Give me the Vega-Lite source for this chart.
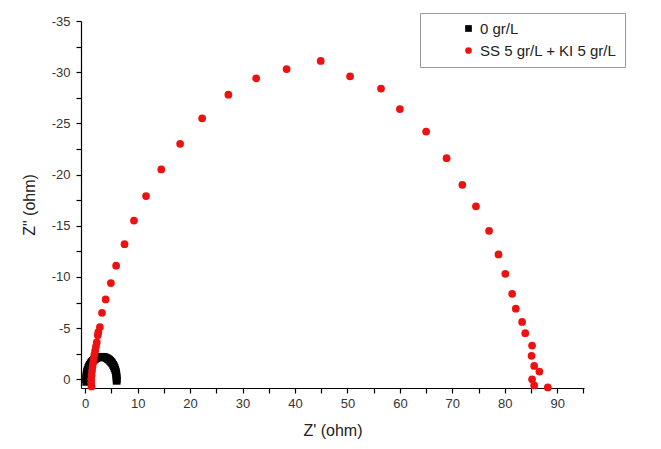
{
  "$schema": "https://vega.github.io/schema/vega-lite/v6.json",
  "width": 503,
  "height": 367,
  "autosize": {"type": "none"},
  "padding": {"left": 81, "top": 21, "right": 77, "bottom": 61},
  "background": "white",
  "config": {
    "view": {"stroke": null},
    "font": "Liberation Sans",
    "axis": {
      "grid": false,
      "domainColor": "#000",
      "domainWidth": 1.2,
      "tickColor": "#000",
      "tickWidth": 1.2,
      "tickSize": 5,
      "labelFont": "Liberation Sans",
      "labelFontSize": 13,
      "labelColor": "#333",
      "titleFont": "Liberation Sans",
      "titleFontSize": 16,
      "titleFontWeight": "normal",
      "titleColor": "#222"
    }
  },
  "data": {
    "values": [
      {"zr": 0.2, "zi": 0.25, "series": "0 gr/L"},
      {"zr": 0.2, "zi": 0.0, "series": "0 gr/L"},
      {"zr": 0.21, "zi": -0.19, "series": "0 gr/L"},
      {"zr": 0.24, "zi": -0.38, "series": "0 gr/L"},
      {"zr": 0.3, "zi": -0.57, "series": "0 gr/L"},
      {"zr": 0.37, "zi": -0.75, "series": "0 gr/L"},
      {"zr": 0.47, "zi": -0.93, "series": "0 gr/L"},
      {"zr": 0.59, "zi": -1.1, "series": "0 gr/L"},
      {"zr": 0.72, "zi": -1.26, "series": "0 gr/L"},
      {"zr": 0.88, "zi": -1.41, "series": "0 gr/L"},
      {"zr": 1.05, "zi": -1.56, "series": "0 gr/L"},
      {"zr": 1.24, "zi": -1.69, "series": "0 gr/L"},
      {"zr": 1.44, "zi": -1.8, "series": "0 gr/L"},
      {"zr": 1.65, "zi": -1.91, "series": "0 gr/L"},
      {"zr": 1.87, "zi": -1.99, "series": "0 gr/L"},
      {"zr": 2.11, "zi": -2.07, "series": "0 gr/L"},
      {"zr": 2.35, "zi": -2.12, "series": "0 gr/L"},
      {"zr": 2.6, "zi": -2.17, "series": "0 gr/L"},
      {"zr": 2.85, "zi": -2.19, "series": "0 gr/L"},
      {"zr": 3.1, "zi": -2.2, "series": "0 gr/L"},
      {"zr": 3.35, "zi": -2.19, "series": "0 gr/L"},
      {"zr": 3.6, "zi": -2.17, "series": "0 gr/L"},
      {"zr": 3.85, "zi": -2.12, "series": "0 gr/L"},
      {"zr": 4.09, "zi": -2.07, "series": "0 gr/L"},
      {"zr": 4.33, "zi": -1.99, "series": "0 gr/L"},
      {"zr": 4.55, "zi": -1.91, "series": "0 gr/L"},
      {"zr": 4.76, "zi": -1.8, "series": "0 gr/L"},
      {"zr": 4.96, "zi": -1.69, "series": "0 gr/L"},
      {"zr": 5.15, "zi": -1.56, "series": "0 gr/L"},
      {"zr": 5.32, "zi": -1.41, "series": "0 gr/L"},
      {"zr": 5.48, "zi": -1.26, "series": "0 gr/L"},
      {"zr": 5.61, "zi": -1.1, "series": "0 gr/L"},
      {"zr": 5.73, "zi": -0.93, "series": "0 gr/L"},
      {"zr": 5.83, "zi": -0.75, "series": "0 gr/L"},
      {"zr": 5.9, "zi": -0.57, "series": "0 gr/L"},
      {"zr": 5.96, "zi": -0.38, "series": "0 gr/L"},
      {"zr": 5.99, "zi": -0.19, "series": "0 gr/L"},
      {"zr": 6.0, "zi": 0.0, "series": "0 gr/L"},
      {"zr": 6.0, "zi": 0.15, "series": "0 gr/L"},

      {"zr": 1.2, "zi": 0.7, "series": "SS 5 gr/L + KI 5 gr/L"},
      {"zr": 1.15, "zi": 0.35, "series": "SS 5 gr/L + KI 5 gr/L"},
      {"zr": 1.15, "zi": 0.0, "series": "SS 5 gr/L + KI 5 gr/L"},
      {"zr": 1.22, "zi": -0.4, "series": "SS 5 gr/L + KI 5 gr/L"},
      {"zr": 1.3, "zi": -0.8, "series": "SS 5 gr/L + KI 5 gr/L"},
      {"zr": 1.4, "zi": -1.2, "series": "SS 5 gr/L + KI 5 gr/L"},
      {"zr": 1.5, "zi": -1.6, "series": "SS 5 gr/L + KI 5 gr/L"},
      {"zr": 1.62, "zi": -2.0, "series": "SS 5 gr/L + KI 5 gr/L"},
      {"zr": 1.75, "zi": -2.4, "series": "SS 5 gr/L + KI 5 gr/L"},
      {"zr": 1.9, "zi": -2.8, "series": "SS 5 gr/L + KI 5 gr/L"},
      {"zr": 2.05, "zi": -3.2, "series": "SS 5 gr/L + KI 5 gr/L"},
      {"zr": 2.2, "zi": -3.6, "series": "SS 5 gr/L + KI 5 gr/L"},
      {"zr": 2.4, "zi": -4.3, "series": "SS 5 gr/L + KI 5 gr/L"},
      {"zr": 2.5, "zi": -4.6, "series": "SS 5 gr/L + KI 5 gr/L"},
      {"zr": 2.8, "zi": -5.1, "series": "SS 5 gr/L + KI 5 gr/L"},
      {"zr": 3.2, "zi": -6.5, "series": "SS 5 gr/L + KI 5 gr/L"},
      {"zr": 3.9, "zi": -7.8, "series": "SS 5 gr/L + KI 5 gr/L"},
      {"zr": 4.9, "zi": -9.4, "series": "SS 5 gr/L + KI 5 gr/L"},
      {"zr": 5.9, "zi": -11.1, "series": "SS 5 gr/L + KI 5 gr/L"},
      {"zr": 7.5, "zi": -13.2, "series": "SS 5 gr/L + KI 5 gr/L"},
      {"zr": 9.3, "zi": -15.5, "series": "SS 5 gr/L + KI 5 gr/L"},
      {"zr": 11.6, "zi": -17.9, "series": "SS 5 gr/L + KI 5 gr/L"},
      {"zr": 14.5, "zi": -20.5, "series": "SS 5 gr/L + KI 5 gr/L"},
      {"zr": 18.1, "zi": -23.0, "series": "SS 5 gr/L + KI 5 gr/L"},
      {"zr": 22.3, "zi": -25.5, "series": "SS 5 gr/L + KI 5 gr/L"},
      {"zr": 27.3, "zi": -27.8, "series": "SS 5 gr/L + KI 5 gr/L"},
      {"zr": 32.6, "zi": -29.4, "series": "SS 5 gr/L + KI 5 gr/L"},
      {"zr": 38.4, "zi": -30.3, "series": "SS 5 gr/L + KI 5 gr/L"},
      {"zr": 44.9, "zi": -31.1, "series": "SS 5 gr/L + KI 5 gr/L"},
      {"zr": 50.5, "zi": -29.6, "series": "SS 5 gr/L + KI 5 gr/L"},
      {"zr": 56.4, "zi": -28.4, "series": "SS 5 gr/L + KI 5 gr/L"},
      {"zr": 60.0, "zi": -26.4, "series": "SS 5 gr/L + KI 5 gr/L"},
      {"zr": 65.0, "zi": -24.2, "series": "SS 5 gr/L + KI 5 gr/L"},
      {"zr": 68.9, "zi": -21.6, "series": "SS 5 gr/L + KI 5 gr/L"},
      {"zr": 71.9, "zi": -19.0, "series": "SS 5 gr/L + KI 5 gr/L"},
      {"zr": 74.5, "zi": -16.9, "series": "SS 5 gr/L + KI 5 gr/L"},
      {"zr": 77.0, "zi": -14.5, "series": "SS 5 gr/L + KI 5 gr/L"},
      {"zr": 78.8, "zi": -12.2, "series": "SS 5 gr/L + KI 5 gr/L"},
      {"zr": 80.1, "zi": -10.3, "series": "SS 5 gr/L + KI 5 gr/L"},
      {"zr": 81.4, "zi": -8.35, "series": "SS 5 gr/L + KI 5 gr/L"},
      {"zr": 82.1, "zi": -6.9, "series": "SS 5 gr/L + KI 5 gr/L"},
      {"zr": 83.3, "zi": -5.6, "series": "SS 5 gr/L + KI 5 gr/L"},
      {"zr": 83.9, "zi": -4.5, "series": "SS 5 gr/L + KI 5 gr/L"},
      {"zr": 85.2, "zi": -3.3, "series": "SS 5 gr/L + KI 5 gr/L"},
      {"zr": 85.1, "zi": -2.3, "series": "SS 5 gr/L + KI 5 gr/L"},
      {"zr": 85.6, "zi": -1.3, "series": "SS 5 gr/L + KI 5 gr/L"},
      {"zr": 86.6, "zi": -0.75, "series": "SS 5 gr/L + KI 5 gr/L"},
      {"zr": 85.2, "zi": 0.0, "series": "SS 5 gr/L + KI 5 gr/L"},
      {"zr": 85.6, "zi": 0.6, "series": "SS 5 gr/L + KI 5 gr/L"},
      {"zr": 88.2, "zi": 0.8, "series": "SS 5 gr/L + KI 5 gr/L"}
    ]
  },
  "mark": {"type": "point", "filled": true, "opacity": 1, "size": 60, "clip": false},
  "encoding": {
    "x": {
      "field": "zr",
      "type": "quantitative",
      "title": "Z' (ohm)",
      "scale": {"domain": [-0.8, 95.1], "nice": false, "zero": false},
      "axis": {
        "values": [0, 5, 10, 15, 20, 25, 30, 35, 40, 45, 50, 55, 60, 65, 70, 75, 80, 85, 90, 95],
        "labelExpr": "datum.value % 10 == 0 ? datum.label : ''",
        "labelPadding": 4,
        "titlePadding": 12
      }
    },
    "y": {
      "field": "zi",
      "type": "quantitative",
      "title": "Z\" (ohm)",
      "scale": {"domain": [-35, 0.85], "nice": false, "zero": false, "reverse": true},
      "axis": {
        "values": [-35, -32.5, -30, -27.5, -25, -22.5, -20, -17.5, -15, -12.5, -10, -7.5, -5, -2.5, 0],
        "labelExpr": "datum.value % 5 == 0 ? replace(datum.label, '\u2212', '-') : ''",
        "labelPadding": 6,
        "titlePadding": 14
      }
    },
    "color": {
      "field": "series",
      "type": "nominal",
      "scale": {"domain": ["0 gr/L", "SS 5 gr/L + KI 5 gr/L"], "range": ["#000000", "#ee1111"]},
      "legend": {
        "title": null,
        "orient": "none",
        "legendX": 339,
        "legendY": -8,
        "strokeColor": "#999",
        "fillColor": "white",
        "padding": 8,
        "symbolOffset": 33,
        "symbolSize": 45,
        "labelFont": "Liberation Sans",
        "labelFontSize": 15,
        "labelColor": "#222",
        "labelOffset": 4,
        "rowPadding": 6,
        "symbolStrokeWidth": 0
      }
    },
    "shape": {
      "field": "series",
      "type": "nominal",
      "scale": {"domain": ["0 gr/L", "SS 5 gr/L + KI 5 gr/L"], "range": ["square", "circle"]}
    }
  }
}
